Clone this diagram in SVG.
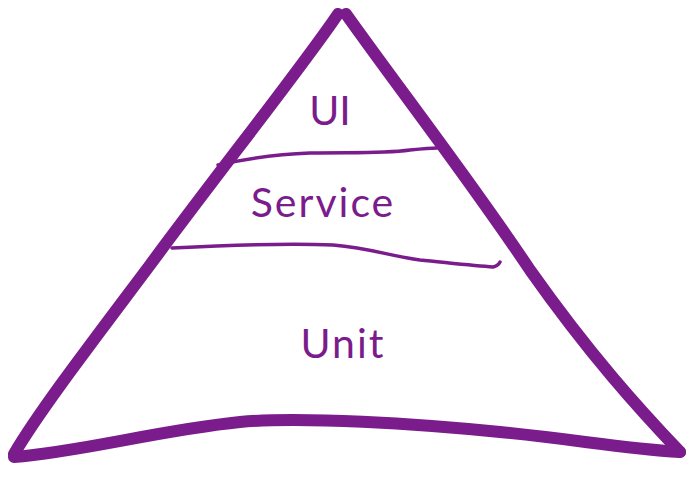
<svg xmlns="http://www.w3.org/2000/svg" width="691" height="477" viewBox="0 0 691 477">
<style>
.edge{fill:none;stroke:#7b1c8c;stroke-linecap:round;stroke-linejoin:round}
.thick{stroke-width:12}
.thin{stroke-width:3.5}
.lbl{font-family:"Lato","Liberation Sans",sans-serif;fill:#7b1c8c;text-anchor:middle;font-size:41px}
</style>
<rect width="691" height="477" fill="#ffffff"/>
<g id="pyramid">
<path class="edge thick" d="M338,14 C300,70 220,170 150,265 C90,345 40,410 14,454"/>
<path class="edge thick" d="M346,14 C400,90 470,180 530,270 C590,355 640,410 680,452"/>
<path class="edge thick" d="M14,457 C80,452 160,430 240,422 C300,416 420,424 500,432 C580,440 620,448 680,452"/>
</g>
<g id="connectors">
<path class="edge thin" d="M218,165 C250,158 280,154 310,153 C350,152 380,154 410,150 C420,149 430,148 437,148"/>
<path class="edge thin" d="M172,248 C230,245 290,243 333,245 C370,248 390,256 420,260 C450,263 475,266 493,267 C497,266 499,264 500,262"/>
</g>
<g id="ui"><text class="lbl" x="330" y="125">UI</text></g>
<g id="service"><text class="lbl" x="323" y="217" letter-spacing="2">Service</text></g>
<g id="unit"><text class="lbl" x="343" y="358" letter-spacing="2">Unit</text></g>
</svg>
